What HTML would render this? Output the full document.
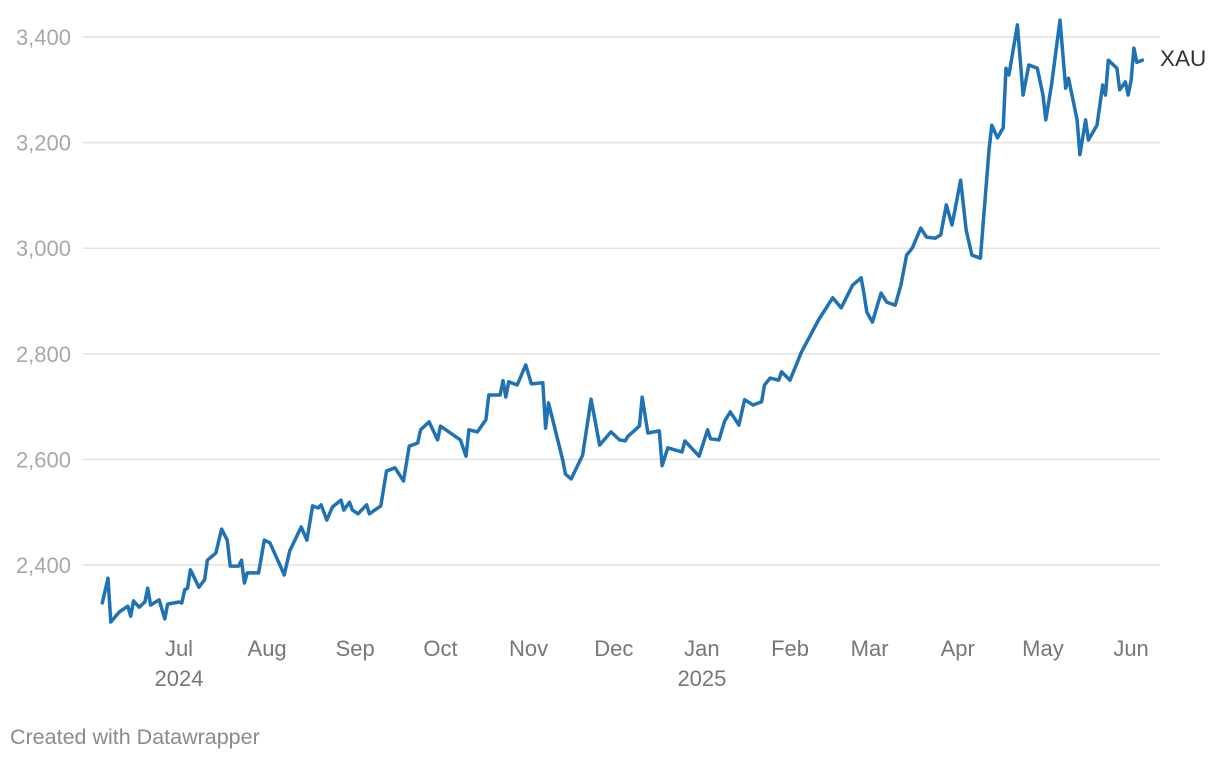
<!DOCTYPE html>
<html><head><meta charset="utf-8"><style>
html,body{margin:0;padding:0;background:#fff;}
body{width:1220px;height:760px;overflow:hidden;font-family:"Liberation Sans",sans-serif;}
</style></head><body>
<svg id="chart" width="1220" height="760" xmlns="http://www.w3.org/2000/svg" font-family="Liberation Sans, sans-serif"></svg>
<script>
// day offsets from 2024-07-01 and XAU values
const dayOffsets=[-27,-25,-24,-21,-18,-17,-16,-14,-12,-11,-10,-7,-5,-4,0,1,2,3,4,7,9,10,13,15,17,18,21,22,23,24,28,30,32,36,37,39,43,45,47,49,50,52,54,57,58,60,61,63,66,67,71,73,76,79,81,84,85,88,91,92,99,101,102,105,108,109,113,114,115,116,119,122,124,128,129,130,135,136,138,142,145,148,152,155,157,158,162,163,165,169,170,172,177,178,183,186,187,190,192,194,197,199,202,205,206,208,211,212,215,219,225,230,233,237,240,241,242,244,247,249,252,254,256,258,261,263,266,268,270,272,273,275,277,279,282,285,286,288,290,291,292,295,297,299,302,304,305,307,310,312,313,316,317,319,320,323,325,326,327,330,331,333,334,335,336,337,339];
const xauValues=[2328,2375,2292,2311,2322,2303,2332,2320,2330,2356,2324,2334,2298,2326,2330,2328,2353,2356,2391,2358,2372,2409,2423,2468,2447,2398,2398,2409,2366,2385,2385,2447,2442,2394,2381,2427,2472,2447,2512,2508,2514,2485,2510,2523,2504,2519,2504,2497,2514,2497,2512,2578,2584,2559,2625,2631,2656,2671,2637,2663,2637,2606,2656,2652,2675,2722,2722,2749,2718,2747,2741,2779,2743,2745,2659,2707,2599,2572,2563,2608,2714,2627,2652,2637,2635,2644,2663,2718,2650,2654,2588,2622,2614,2635,2606,2656,2639,2637,2673,2690,2665,2713,2703,2709,2741,2754,2750,2766,2750,2803,2864,2906,2887,2930,2944,2915,2879,2860,2915,2898,2892,2930,2987,3000,3038,3021,3019,3025,3082,3044,3072,3129,3034,2987,2981,3186,3233,3209,3228,3341,3328,3423,3290,3347,3341,3290,3243,3309,3432,3303,3322,3243,3177,3243,3205,3233,3309,3290,3356,3341,3300,3315,3290,3318,3379,3352,3356];
const yTicks=[2400,2600,2800,3000,3200,3400];
const monthLabels=["Jul","Aug","Sep","Oct","Nov","Dec","Jan","Feb","Mar","Apr","May","Jun"];
const monthOffsets=[0,31,62,92,123,153,184,215,243,274,304,335];
const yearLabels=[{m:"Jul",y:"2024"},{m:"Jan",y:"2025"}];

const NS="http://www.w3.org/2000/svg";
const svg=document.getElementById('chart');
const xS=d=>179+d*2.842;
const yS=v=>565-(v-2400)*0.528;
function mk(tag,attrs,parent){const e=document.createElementNS(NS,tag);for(const k in attrs)e.setAttribute(k,attrs[k]);(parent||svg).appendChild(e);return e;}

yTicks.forEach(t=>{
  const g=mk('line',{x1:83,x2:1160,y1:yS(t),y2:yS(t),stroke:'#e2e2e2','stroke-width':1.5});
  
  
  const tx=mk('text',{x:71,y:yS(t)+8,'text-anchor':'end','font-size':22,fill:'#a8a8a8'});
  tx.textContent=t.toLocaleString('en-US');
  
  
});
monthLabels.forEach((m,i)=>{
  const tx=mk('text',{x:xS(monthOffsets[i]),y:656,'text-anchor':'middle','font-size':22,fill:'#777'});
  tx.textContent=m;
  
  
});
yearLabels.forEach(o=>{
  const i=monthLabels.indexOf(o.m);
  const tx=mk('text',{x:xS(monthOffsets[i]),y:686,'text-anchor':'middle','font-size':22,fill:'#777'});
  tx.textContent=o.y;
  
  
});
const pts=dayOffsets.map((d,i)=>xS(d).toFixed(1)+','+yS(xauValues[i]).toFixed(1)).join(' ');
const line=mk('polyline',{points:pts,fill:'none',stroke:'#1f72b4','stroke-width':3.5,'stroke-linejoin':'round','stroke-linecap':'round'});


const lab=mk('text',{x:1160,y:66,'font-size':22.5,fill:'#333'});
lab.textContent='XAU';


const ft=mk('text',{x:10,y:744,'font-size':21.5,fill:'#8a8a8a'});
ft.textContent='Created with Datawrapper';


</script>
</body></html>
